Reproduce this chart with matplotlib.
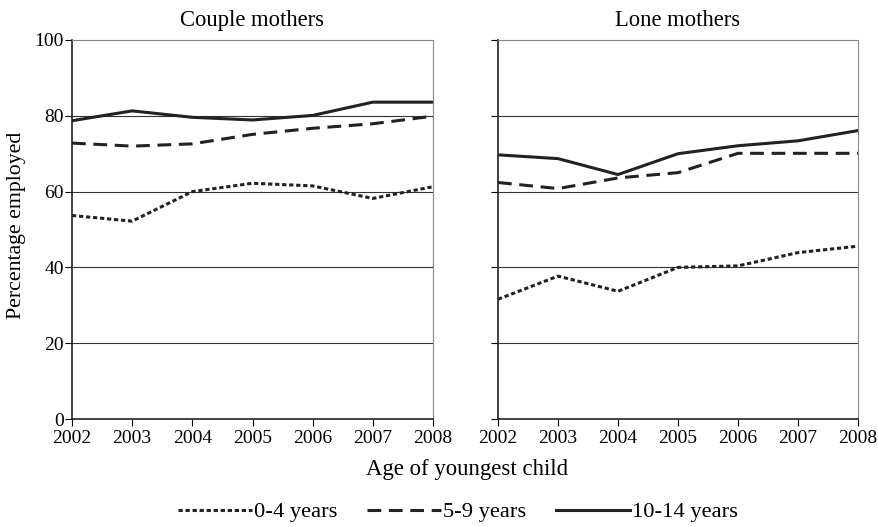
import matplotlib.pyplot as plt

years = [2002, 2003, 2004, 2005, 2006, 2007, 2008]

couple_0_4 = [53.7, 52.2, 60.0, 62.2, 61.5, 58.2, 61.3]
couple_5_9 = [72.8, 72.0, 72.6, 75.1, 76.7, 77.9, 79.9]
couple_10_14 = [78.7, 81.3, 79.6, 78.9, 80.1, 83.6, 83.6]

lone_0_4 = [31.6, 37.7, 33.7, 40.0, 40.4, 43.9, 45.6]
lone_5_9 = [62.4, 60.8, 63.6, 65.0, 70.1, 70.1, 70.1]
lone_10_14 = [69.7, 68.7, 64.5, 70.0, 72.1, 73.4, 76.1]

panels = [("Couple mothers", couple_0_4, couple_5_9, couple_10_14),
          ("Lone mothers", lone_0_4, lone_5_9, lone_10_14)]

plt.rcParams['font.family'] = ['Liberation Serif', 'DejaVu Serif']

fig = plt.figure(figsize=(8.79, 5.27), dpi=100)
axes = [fig.add_axes([72 / 879, 1 - 419 / 527, 361 / 879, 379 / 527]),
        fig.add_axes([498 / 879, 1 - 419 / 527, 360 / 879, 379 / 527])]

for i, (ax, (title, s1, s2, s3)) in enumerate(zip(axes, panels)):
    l1, = ax.plot(years, s1, color='#222222', lw=2.2, ls=(0, (1.4, 0.9)), label='0-4 years')
    l2, = ax.plot(years, s2, color='#222222', lw=2.2, ls=(0, (4.5, 2.5)), label='5-9 years')
    l3, = ax.plot(years, s3, color='#222222', lw=2.2, ls='-', label='10-14 years')
    ax.set_xlim(2002, 2008)
    ax.set_ylim(0, 100)
    ax.set_xticks(years)
    ax.set_yticks([0, 20, 40, 60, 80, 100])
    for v in [20, 40, 60, 80]:
        ax.axhline(v, color='#333333', lw=0.8, zorder=0)
    ax.set_title(title, fontsize=16.3, pad=10)
    ax.spines['top'].set_color('#888888')
    ax.spines['right'].set_color('#888888')
    ax.spines['left'].set_color('#222222')
    ax.spines['bottom'].set_color('#222222')
    ax.spines['left'].set_linewidth(1.2)
    ax.spines['bottom'].set_linewidth(1.2)
    ax.tick_params(axis='both', direction='out', length=5, width=0.8, labelsize=14)
    ax.tick_params(axis='x', pad=3)
    ax.tick_params(axis='y', pad=1)
    if i == 1:
        ax.set_yticklabels([])
    else:
        ax.set_ylabel('Percentage employed', fontsize=15.7)
        ax.yaxis.set_label_coords(-0.128, 0.51)

fig.text(467 / 879, 1 - 470 / 527, 'Age of youngest child', ha='center', va='center', fontsize=16.4)
fig.legend(handles=[l1, l2, l3], loc='center', bbox_to_anchor=(458 / 879, 1 - 512 / 527),
           ncol=3, frameon=False, handlelength=3.3, handletextpad=0.1, columnspacing=1.3,
           fontsize=16.2)

fig.savefig('out.png', dpi=100)
